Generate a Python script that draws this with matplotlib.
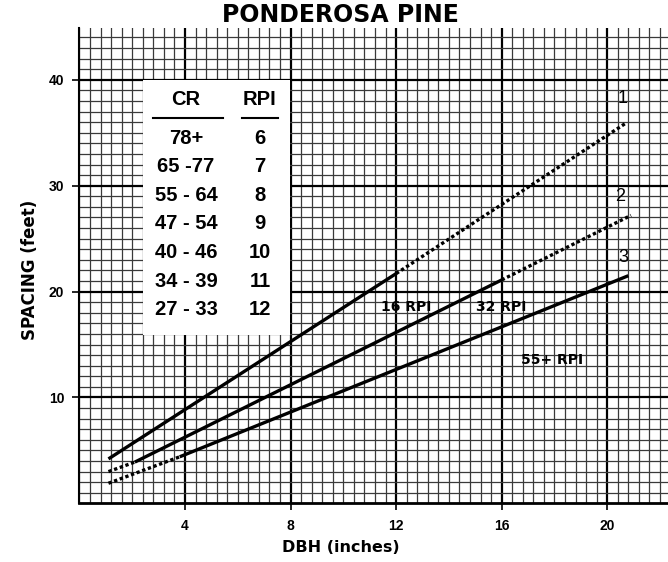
import matplotlib.pyplot as plt
from matplotlib.patches import Rectangle
from matplotlib.ticker import MultipleLocator

plt.rcParams['font.family'] = ['Liberation Sans', 'DejaVu Sans']

# spacing guide lines (DBH inches -> spacing feet), solid part and dotted ends
line1_solid_x = [1.1, 12.0]
line1_solid_y = [4.2, 21.7]
line1_dot_x = [12.0, 20.7]
line1_dot_y = [21.7, 35.9]

line2_dot1_x = [1.1, 2.1]
line2_dot1_y = [3.0, 3.9]
line2_solid_x = [2.1, 16.0]
line2_solid_y = [3.9, 21.1]
line2_dot2_x = [16.0, 20.9]
line2_dot2_y = [21.1, 27.2]

line3_dot_x = [1.1, 3.8]
line3_dot_y = [1.9, 4.4]
line3_solid_x = [3.8, 20.8]
line3_solid_y = [4.4, 21.5]

cr_classes = ['78+', '65 -77', '55 - 64', '47 - 54', '40 - 46', '34 - 39', '27 - 33']
rpi_values = ['6', '7', '8', '9', '10', '11', '12']

fig = plt.figure(figsize=(6.68, 5.62), dpi=100)
ax = fig.add_axes([0.1189, 0.1043, 0.881, 0.846])
ax.set_xlim(0, 22.3)
ax.set_ylim(0, 44.9)

# graph paper grid
ax.xaxis.set_minor_locator(MultipleLocator(0.4))
ax.yaxis.set_minor_locator(MultipleLocator(1))
ax.set_xticks([4, 8, 12, 16, 20])
ax.set_yticks([10, 20, 30, 40])
ax.grid(which='minor', color='#3a3a3a', linewidth=0.9, zorder=0)
ax.grid(which='major', color='black', linewidth=1.6, zorder=0)
ax.set_axisbelow(True)

for s in ['top', 'right']:
    ax.spines[s].set_visible(False)
ax.spines['left'].set_linewidth(1.5)
ax.spines['bottom'].set_linewidth(2)
ax.tick_params(which='minor', length=0)
ax.tick_params(which='major', length=5, width=1.2, direction='out', pad=6)
for lab in ax.get_xticklabels() + ax.get_yticklabels():
    lab.set_fontweight('bold')
    lab.set_fontsize(10)

# white table box
ax.add_patch(Rectangle((2.41, 15.9), 5.57, 24.1, facecolor='white',
                       edgecolor='none', zorder=1))

solid = dict(color='black', linewidth=2.4, solid_capstyle='butt', zorder=3)
dotted = dict(color='black', linewidth=2.4, linestyle=(0, (1, 0.8)), zorder=3)
ax.plot(line1_solid_x, line1_solid_y, **solid)
ax.plot(line1_dot_x, line1_dot_y, **dotted)
ax.plot(line2_dot1_x, line2_dot1_y, **dotted)
ax.plot(line2_solid_x, line2_solid_y, **solid)
ax.plot(line2_dot2_x, line2_dot2_y, **dotted)
ax.plot(line3_dot_x, line3_dot_y, **dotted)
ax.plot(line3_solid_x, line3_solid_y, **solid)

ax.text(20.6, 37.4, '1', fontsize=13, ha='center', va='bottom', zorder=4)
ax.text(20.5, 28.2, '2', fontsize=13, ha='center', va='bottom', zorder=4)
ax.text(20.6, 22.4, '3', fontsize=13, ha='center', va='bottom', zorder=4)

rpi_font = dict(fontsize=10, fontweight='bold', family='DejaVu Sans',
                ha='center', va='center', zorder=4)
ax.text(12.4, 18.5, '16 RPI', **rpi_font)
ax.text(16.0, 18.5, '32 RPI', **rpi_font)
ax.text(17.9, 13.5, '55+ RPI', **rpi_font)

# CR / RPI table
cell = dict(fontsize=14.5, fontweight='bold', ha='center', va='center', zorder=4)
ax.text(4.04, 38.1, 'CR', **cell)
ax.text(6.84, 38.1, 'RPI', **cell)
ax.plot([2.8, 5.44], [36.4, 36.4], color='black', linewidth=1.5, zorder=4)
ax.plot([6.16, 7.52], [36.4, 36.4], color='black', linewidth=1.5, zorder=4)
row_y = 34.5
for cr, rpi in zip(cr_classes, rpi_values):
    ax.text(4.04, row_y, cr, **cell)
    ax.text(6.84, row_y, rpi, **cell)
    row_y -= 2.7

fig.text(0.51, 0.025, 'DBH (inches)', fontsize=11.5, fontweight='bold',
         family='DejaVu Sans', ha='center', va='center')
fig.text(0.045, 0.52, 'SPACING (feet)', fontsize=12, fontweight='bold',
         family='DejaVu Sans', ha='center', va='center', rotation=90)
fig.text(0.51, 0.973, 'PONDEROSA PINE', fontsize=17, fontweight='bold',
         family='DejaVu Sans', ha='center', va='center')

fig.savefig('out.png', dpi=100)
